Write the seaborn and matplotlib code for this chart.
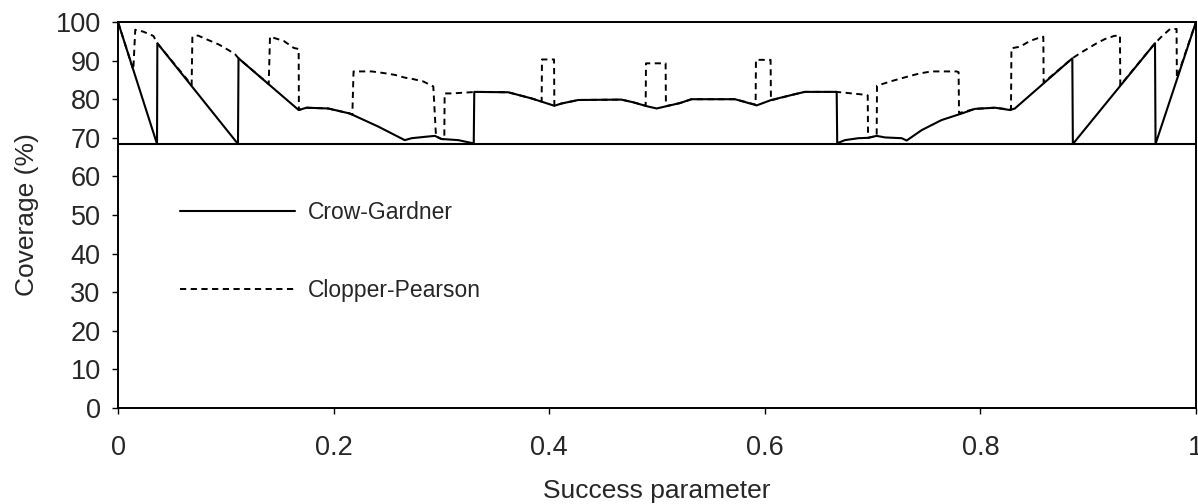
import matplotlib
matplotlib.use("Agg")
import matplotlib.pyplot as plt
import pandas as pd
import seaborn as sns

# coverage curves (repeated x = jump)
cg_p = [0.0, 0.0362, 0.0365, 0.1113, 0.1118, 0.1676, 0.175, 0.195, 0.215, 0.2415,
        0.266, 0.2724, 0.2863, 0.294, 0.300, 0.3157, 0.329, 0.3300, 0.3305, 0.362,
        0.3837, 0.4048, 0.4116, 0.427, 0.467, 0.478, 0.4904, 0.4997, 0.509, 0.5213,
        0.532, 0.5724, 0.5925, 0.606, 0.625, 0.637, 0.665, 0.6667, 0.6672, 0.6744,
        0.6868, 0.696, 0.7038, 0.7115, 0.727, 0.7316, 0.7456, 0.764, 0.7827, 0.795,
        0.8135, 0.8275, 0.832, 0.8853, 0.8858, 0.962, 0.9625, 1.0]
cg_cov = [100.0, 68.4, 94.5, 68.4, 90.6, 77.2, 77.8, 77.6, 76.3, 72.9,
          69.4, 69.9, 70.3, 70.5, 69.7, 69.4, 68.6, 68.4, 81.9, 81.8,
          80.2, 78.3, 78.9, 79.8, 79.9, 79.2, 78.2, 77.6, 78.2, 79.0,
          80.0, 80.0, 78.4, 79.8, 81.1, 81.9, 81.9, 81.9, 68.6, 69.4,
          69.9, 70.0, 70.5, 70.1, 69.9, 69.3, 72.0, 74.6, 76.3, 77.5,
          77.8, 77.2, 77.6, 90.6, 68.4, 94.5, 68.4, 100.0]

cp_p = [0.0, 0.0142, 0.0160, 0.0235, 0.0328, 0.0365, 0.0683, 0.0690, 0.0742, 0.084,
        0.0934, 0.1027, 0.1088, 0.1118, 0.1398, 0.1410, 0.1537, 0.163, 0.1676, 0.1678,
        0.175, 0.195, 0.215, 0.2174, 0.2185, 0.2353, 0.246, 0.257, 0.266, 0.274,
        0.2832, 0.2925, 0.2950, 0.300, 0.3027, 0.3030, 0.3095, 0.3327, 0.362, 0.3837,
        0.393, 0.3933, 0.4045, 0.4048, 0.4116, 0.427, 0.467, 0.478, 0.4895, 0.4898,
        0.508, 0.5083, 0.5213, 0.532, 0.5724, 0.5915, 0.5918, 0.6054, 0.6057, 0.625,
        0.637, 0.6667, 0.6914, 0.6955, 0.6958, 0.7038, 0.7041, 0.7177, 0.733, 0.744,
        0.7548, 0.778, 0.7798, 0.7802, 0.795, 0.8135, 0.8284, 0.8288, 0.8367, 0.846,
        0.8553, 0.8584, 0.8587, 0.8853, 0.8924, 0.9001, 0.9079, 0.9156, 0.9242, 0.9295,
        0.9298, 0.962, 0.968, 0.976, 0.982, 0.9823, 1.0]
cp_cov = [100.0, 87.6, 98.0, 97.5, 96.4, 94.5, 83.7, 96.2, 96.5, 95.3,
          94.2, 92.7, 91.6, 90.6, 83.9, 96.2, 95.1, 93.3, 93.0, 77.2,
          77.8, 77.6, 76.3, 76.0, 87.2, 87.2, 86.8, 86.3, 85.6, 85.2,
          84.6, 83.3, 70.4, 69.7, 69.6, 81.5, 81.5, 81.9, 81.8, 80.2,
          79.4, 90.3, 90.3, 78.3, 78.9, 79.8, 79.9, 79.2, 78.3, 89.3,
          89.3, 78.2, 79.0, 80.0, 80.0, 78.6, 90.2, 90.2, 79.7, 81.1,
          81.9, 81.9, 81.2, 81.0, 70.0, 70.5, 83.5, 84.7, 85.9, 86.7,
          87.2, 87.2, 87.0, 76.4, 77.5, 77.8, 77.3, 93.2, 93.6, 95.1,
          96.0, 96.2, 84.3, 90.6, 91.9, 93.2, 94.5, 95.6, 96.4, 96.5,
          83.6, 94.5, 96.2, 98.2, 98.2, 85.5, 100.0]

nominal = 68.27
x_ticks = [0, 0.2, 0.4, 0.6, 0.8, 1]
x_labels = ["0", "0.2", "0.4", "0.6", "0.8", "1"]
y_ticks = list(range(0, 101, 10))

sns.set_style("ticks")
plt.rcParams['font.family'] = ['Liberation Sans', 'DejaVu Sans']

df_cg = pd.DataFrame({"p": cg_p, "cov": cg_cov})
df_cp = pd.DataFrame({"p": cp_p, "cov": cp_cov})

fig = plt.figure(figsize=(11.98, 5.04), dpi=100)
ax = fig.add_axes([0.0985, 0.1905, 0.8998, 0.7658])

sns.lineplot(data=df_cp, x="p", y="cov", estimator=None, sort=False, ax=ax,
             color="black", lw=1.4, linestyle=(0, (3.2, 2.3)), label="Clopper-Pearson")
sns.lineplot(data=df_cg, x="p", y="cov", estimator=None, sort=False, ax=ax,
             color="black", lw=1.5, label="Crow-Gardner")
ax.axhline(nominal, color="black", lw=1.5)

ax.set_xlim(0, 1)
ax.set_ylim(0, 100)
ax.set_xticks(x_ticks)
ax.set_xticklabels(x_labels)
ax.set_yticks(y_ticks)
ax.tick_params(labelsize=19.5, length=4.5, width=1, color="black")
ax.tick_params(axis="x", pad=15)
ax.tick_params(axis="y", pad=8)
for s in ax.spines.values():
    s.set_visible(True)
    s.set_color("black")
    s.set_linewidth(1.4)

ax.set_xlabel("Success parameter", fontsize=19, labelpad=13)
ax.set_ylabel("Coverage (%)", fontsize=19, labelpad=12)

h, l = ax.get_legend_handles_labels()
ax.legend(h[::-1], l[::-1], loc="upper left", bbox_to_anchor=(0.0575, 0.535),
          frameon=False, fontsize=16.5, handlelength=5.0, handletextpad=0.57,
          labelspacing=2.4, borderpad=0, borderaxespad=0)

fig.savefig("out.png", dpi=100)
